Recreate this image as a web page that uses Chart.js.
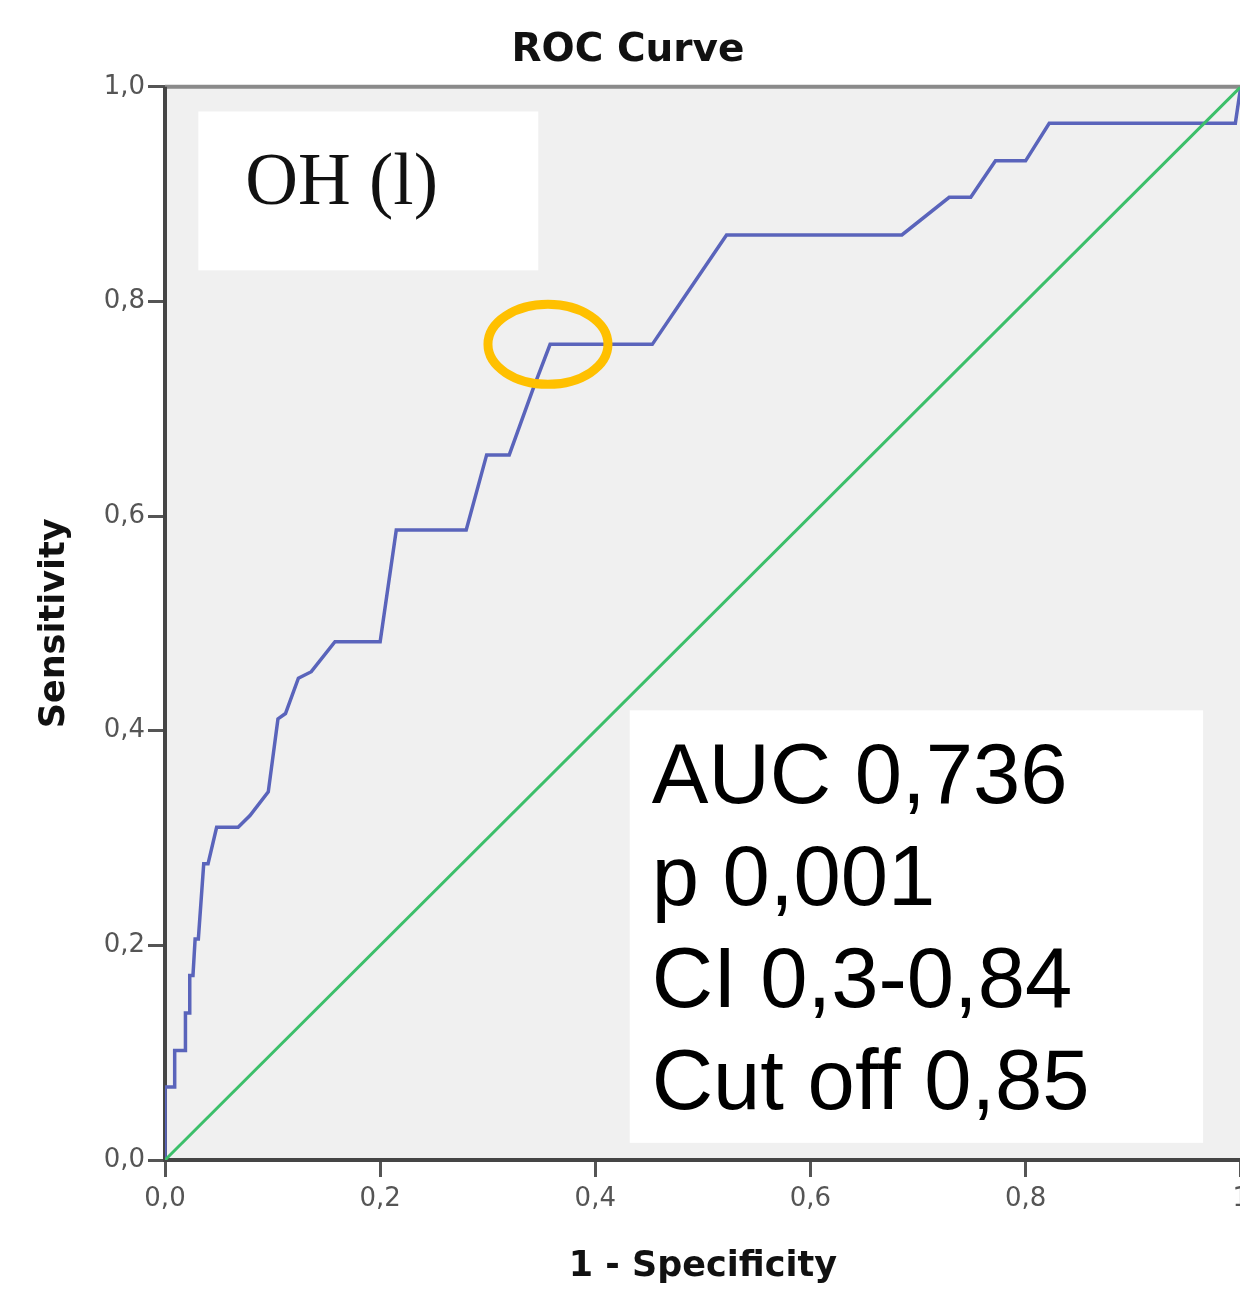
<!DOCTYPE html>
<html lang="en">
<head>
    <meta charset="UTF-8">
    <title>ROC Curve</title>
    <script src="https://cdn.jsdelivr.net/npm/chart.js"></script>
    <style>
        html, body { margin: 0; padding: 0; background: #fff; overflow: hidden; }
        #wrap { width: 1256px; height: 1289px; }
    </style>
</head>
<body>
    <div id="wrap"><canvas id="rocChart" width="1256" height="1289"></canvas></div>

    <script>
        // ROC curve: 1 - specificity (x) and sensitivity (y)
        const fpr = [0, 0, 0.009, 0.009, 0.019, 0.019, 0.023, 0.023, 0.026, 0.028, 0.031, 0.036, 0.040, 0.048,
                     0.068, 0.079, 0.096, 0.105, 0.112, 0.124, 0.136, 0.158, 0.200, 0.215, 0.280, 0.299, 0.320,
                     0.342, 0.358, 0.453, 0.480, 0.522, 0.685, 0.729, 0.749, 0.772, 0.800, 0.822, 0.995, 1];
        const tpr = [0, 0.068, 0.068, 0.102, 0.102, 0.137, 0.137, 0.172, 0.172, 0.206, 0.206, 0.276, 0.276, 0.310,
                     0.310, 0.321, 0.343, 0.411, 0.416, 0.449, 0.455, 0.483, 0.483, 0.587, 0.587, 0.657, 0.657,
                     0.718, 0.760, 0.760, 0.800, 0.862, 0.862, 0.897, 0.897, 0.931, 0.931, 0.966, 0.966, 1];
        // reference line
        const refX = [0, 1];
        const refY = [0, 1];

        const xTickLabels = ['0,0', '0,2', '0,4', '0,6', '0,8', '1'];
        const yTickLabels = ['0,0', '0,2', '0,4', '0,6', '0,8', '1,0'];
        const statLines = ['AUC 0,736', 'p 0,001', 'CI 0,3-0,84', 'Cut off 0,85'];
        const boxLabel = 'OH (l)';
        const cutoffPoint = { x: 0.356, y: 0.76 };

        const toPoints = (xs, ys) => xs.map((x, i) => ({ x: x, y: ys[i] }));

        // plot background, axis frame, white note boxes, circle round the cut off
        const decorations = {
            id: 'decorations',
            beforeDatasetsDraw(chart) {
                const { ctx, chartArea: a, scales: { x, y } } = chart;
                ctx.save();
                ctx.fillStyle = '#f0f0f0';
                ctx.fillRect(a.left, a.top, a.right - a.left, a.bottom - a.top);
                ctx.strokeStyle = '#8a8a8a';
                ctx.lineWidth = 4;
                ctx.beginPath();
                ctx.moveTo(a.left, a.top);
                ctx.lineTo(a.right, a.top);
                ctx.stroke();
                // heavy left and bottom axis lines, under the curves
                ctx.strokeStyle = '#454545';
                ctx.beginPath();
                ctx.moveTo(a.left, a.top);
                ctx.lineTo(a.left, a.bottom);
                ctx.lineTo(a.right + 10, a.bottom);
                ctx.stroke();

                // OH box
                ctx.fillStyle = '#ffffff';
                let x0 = x.getPixelForValue(0.031), x1 = x.getPixelForValue(0.347);
                let y0 = y.getPixelForValue(0.977), y1 = y.getPixelForValue(0.829);
                ctx.fillRect(x0, y0, x1 - x0, y1 - y0);
                ctx.fillStyle = '#111';
                ctx.font = '73px "Liberation Serif", "Times New Roman", serif';
                ctx.textBaseline = 'alphabetic';
                ctx.fillText(boxLabel, x0 + 47, y0 + 93);

                // stats box
                ctx.fillStyle = '#ffffff';
                x0 = x.getPixelForValue(0.432); x1 = x.getPixelForValue(0.965);
                y0 = y.getPixelForValue(0.419); y1 = y.getPixelForValue(0.016);
                ctx.fillRect(x0, y0, x1 - x0, y1 - y0);
                ctx.fillStyle = '#000';
                ctx.font = '85px "Liberation Sans", Arial, sans-serif';
                statLines.forEach((line, i) => {
                    ctx.fillText(line, x0 + 22, y0 + 93 + i * 102);
                });
                ctx.restore();
            },
            afterDatasetsDraw(chart) {
                const { ctx, scales: { x, y } } = chart;
                ctx.save();
                ctx.strokeStyle = '#ffc000';
                ctx.lineWidth = 9;
                ctx.beginPath();
                ctx.ellipse(x.getPixelForValue(cutoffPoint.x), y.getPixelForValue(cutoffPoint.y), 60, 40, 0, 0, Math.PI * 2);
                ctx.stroke();
                ctx.restore();
            }
        };

        const tickFont = { family: '"DejaVu Sans", sans-serif', size: 26 };
        const titleFont = size => ({ family: '"DejaVu Sans", sans-serif', size: size, weight: 'bold', lineHeight: 1.2 });

        new Chart(document.getElementById('rocChart'), {
            type: 'scatter',
            data: {
                datasets: [{
                    label: 'Reference',
                    data: toPoints(refX, refY),
                    showLine: true,
                    borderColor: '#3cbf6a',
                    borderWidth: 3,
                    pointRadius: 0,
                    tension: 0
                }, {
                    label: 'OH (l)',
                    data: toPoints(fpr, tpr),
                    showLine: true,
                    borderColor: '#5a64bb',
                    borderWidth: 3.5,
                    pointRadius: 0,
                    tension: 0
                }]
            },
            options: {
                responsive: false,
                animation: false,
                layout: { padding: 0 },
                plugins: {
                    legend: { display: false },
                    tooltip: { enabled: false },
                    title: {
                        display: true,
                        text: 'ROC Curve',
                        color: '#111',
                        font: titleFont(39),
                        padding: { top: 27, bottom: 13 }
                    }
                },
                scales: {
                    x: {
                        type: 'linear',
                        min: 0,
                        max: 1,
                        afterFit: s => { s.height = 129; },
                        afterBuildTicks: s => { s.ticks = xTickLabels.map((t, i) => ({ value: i * 0.2 })); },
                        ticks: {
                            callback: (v, i) => xTickLabels[i],
                            color: '#555',
                            font: tickFont,
                            padding: 7,
                            maxRotation: 0
                        },
                        grid: { display: true, drawOnChartArea: false, drawTicks: true, tickLength: 17, tickWidth: 3, tickColor: '#555' },
                        border: { display: false },
                        title: {
                            display: true,
                            text: '1 - Specificity',
                            color: '#111',
                            font: titleFont(35),
                            padding: { top: 0, bottom: 1 }
                        }
                    },
                    y: {
                        type: 'linear',
                        min: 0,
                        max: 1,
                        afterFit: s => { s.width = 165; },
                        afterBuildTicks: s => { s.ticks = yTickLabels.map((t, i) => ({ value: i * 0.2 })); },
                        ticks: {
                            callback: (v, i) => yTickLabels[i],
                            color: '#555',
                            font: tickFont,
                            padding: 3
                        },
                        grid: { display: true, drawOnChartArea: false, drawTicks: true, tickLength: 17, tickWidth: 3, tickColor: '#555' },
                        border: { display: false },
                        title: {
                            display: true,
                            text: 'Sensitivity',
                            color: '#111',
                            font: titleFont(35),
                            padding: { top: 34, bottom: 0 }
                        }
                    }
                }
            },
            plugins: [decorations]
        });
    </script>
</body>
</html>
